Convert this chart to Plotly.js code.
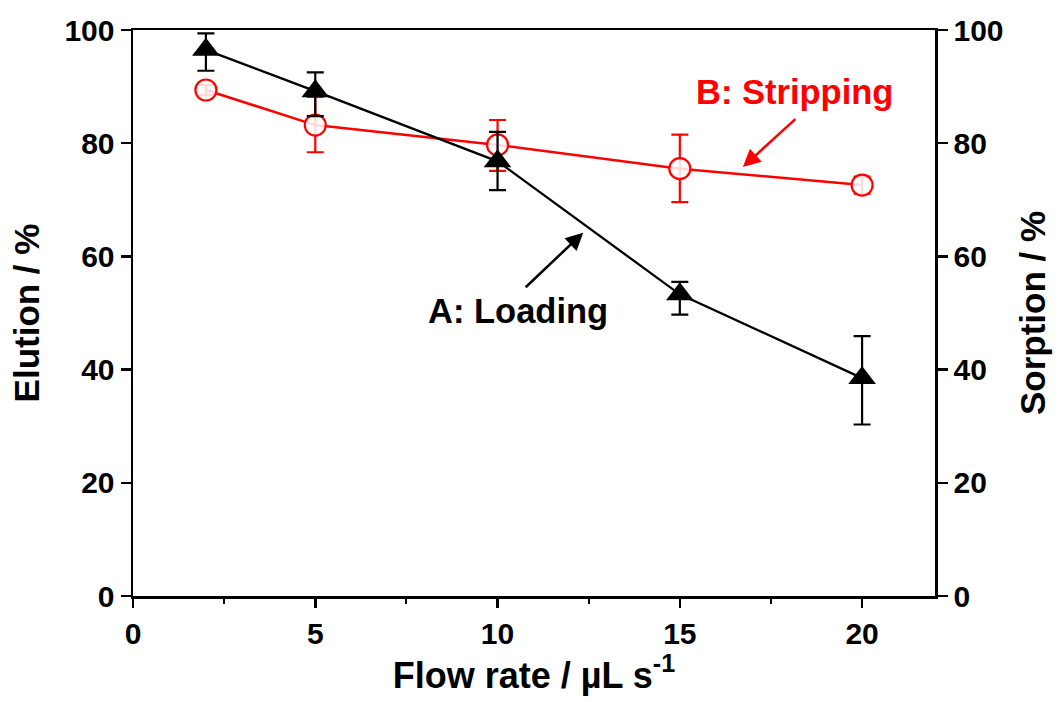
<!DOCTYPE html>
<html>
<head>
<meta charset="utf-8">
<script src="https://cdn.plot.ly/plotly-3.0.1.min.js"></script>
<style>html,body{margin:0;padding:0;background:#fff;}#chart{width:1060px;height:702px;}</style>
</head>
<body>
<div id="chart"></div>
<script>
// Flow rate (µL s-1)
var flowRate = [2, 5, 10, 15, 20];
// A: Loading (sorption %)
var loading = [96.5, 89.2, 76.8, 53.3, 38.5];
var loadingErrPlus = [2.9, 3.3, 5.2, 2.2, 7.4];
var loadingErrMinus = [3.7, 4.4, 5.1, 3.6, 8.2];
// B: Stripping (elution %)
var stripping = [89.4, 83.2, 79.7, 75.5, 72.6];
var strippingErrPlus = [0.9, 5.0, 4.4, 6.0, 1.5];
var strippingErrMinus = [0.9, 4.8, 4.6, 5.9, 1.5];
var yTicks = [0, 20, 40, 60, 80, 100];
var xTicks = [0, 5, 10, 15, 20];

var FONT = 'Liberation Sans, Arial, sans-serif';

var traceLoading = {
  x: flowRate, y: loading, yaxis: 'y2', type: 'scatter', mode: 'lines+markers',
  name: 'A: Loading',
  line: {color: '#000000', width: 2.3},
  marker: {symbol: 'triangle-up', size: 24, color: '#000000'},
  error_y: {type: 'data', symmetric: false, array: loadingErrPlus, arrayminus: loadingErrMinus,
            color: '#000000', thickness: 2.2, width: 8.5},
  showlegend: false
};
var traceStripping = {
  x: flowRate, y: stripping, type: 'scatter', mode: 'lines+markers',
  name: 'B: Stripping',
  line: {color: '#ff0000', width: 2.5},
  marker: {symbol: 'circle', size: 21, color: 'rgba(255,255,255,0.85)', line: {color: '#ff0000', width: 2.2}},
  error_y: {type: 'data', symmetric: false, array: strippingErrPlus, arrayminus: strippingErrMinus,
            color: '#ff0000', thickness: 2.2, width: 8.5},
  showlegend: false
};

var tickFont = {family: FONT, size: 30, color: '#000', weight: 'bold'};
var titleFont = {family: FONT, size: 35, color: '#000', weight: 'bold'};

var layout = {
  width: 1060, height: 702,
  margin: {l: 133, r: 125, t: 30, b: 106},
  paper_bgcolor: '#fff', plot_bgcolor: '#fff',
  xaxis: {
    range: [0, 22], tickvals: xTicks, ticktext: xTicks.map(String),
    ticks: 'outside', ticklen: 9, tickwidth: 2.5, tickcolor: '#000',
    minor: {dtick: 2.5, tick0: 0, ticks: 'outside', ticklen: 5, tickwidth: 2, tickcolor: '#000', showgrid: false},
    showline: true, linewidth: 2.5, linecolor: '#000', mirror: true,
    showgrid: false, zeroline: false,
    tickfont: tickFont,
    title: {text: 'Flow rate / µL s<sup>-1</sup>', font: {family: FONT, size: 36, color: '#000', weight: 'bold'}, standoff: 14}
  },
  yaxis: {
    range: [0, 100], tickvals: yTicks, ticktext: yTicks.map(String),
    ticks: 'outside', ticklen: 10, tickwidth: 2.5, tickcolor: '#000',
    showline: true, linewidth: 2.5, linecolor: '#000',
    showgrid: false, zeroline: false,
    tickfont: tickFont,
    title: {text: 'Elution / %', font: titleFont, standoff: 14}
  },
  yaxis2: {
    range: [0, 100], tickvals: yTicks, ticktext: yTicks.map(String),
    overlaying: 'y', side: 'right',
    ticks: 'outside', ticklen: 10, tickwidth: 2.5, tickcolor: '#000',
    showline: true, linewidth: 2.5, linecolor: '#000',
    showgrid: false, zeroline: false,
    tickfont: tickFont,
    title: {text: 'Sorption / %', font: titleFont, standoff: 18}
  },
  annotations: [
    {x: 10.55, y: 50.3, xref: 'x', yref: 'y', text: 'A: Loading', showarrow: false,
     font: {family: FONT, size: 34.5, color: '#000', weight: 'bold'}, xanchor: 'center', yanchor: 'middle'},
    {x: 12.35, y: 64.2, ax: 10.73, ay: 54.3, xref: 'x', yref: 'y', axref: 'x', ayref: 'y',
     text: '', showarrow: true, arrowhead: 2, arrowsize: 1.4, arrowwidth: 2.5, arrowcolor: '#000', standoff: 0},
    {x: 18.15, y: 89.0, xref: 'x', yref: 'y', text: 'B: Stripping', showarrow: false,
     font: {family: FONT, size: 34.5, color: '#ff0000', weight: 'bold'}, xanchor: 'center', yanchor: 'middle'},
    {x: 16.73, y: 75.8, ax: 18.21, ay: 84.5, xref: 'x', yref: 'y', axref: 'x', ayref: 'y',
     text: '', showarrow: true, arrowhead: 2, arrowsize: 1.4, arrowwidth: 2.5, arrowcolor: '#ff0000', standoff: 0}
  ]
};

Plotly.newPlot('chart', [traceLoading, traceStripping], layout, {displayModeBar: false, staticPlot: true});
</script>
</body>
</html>
